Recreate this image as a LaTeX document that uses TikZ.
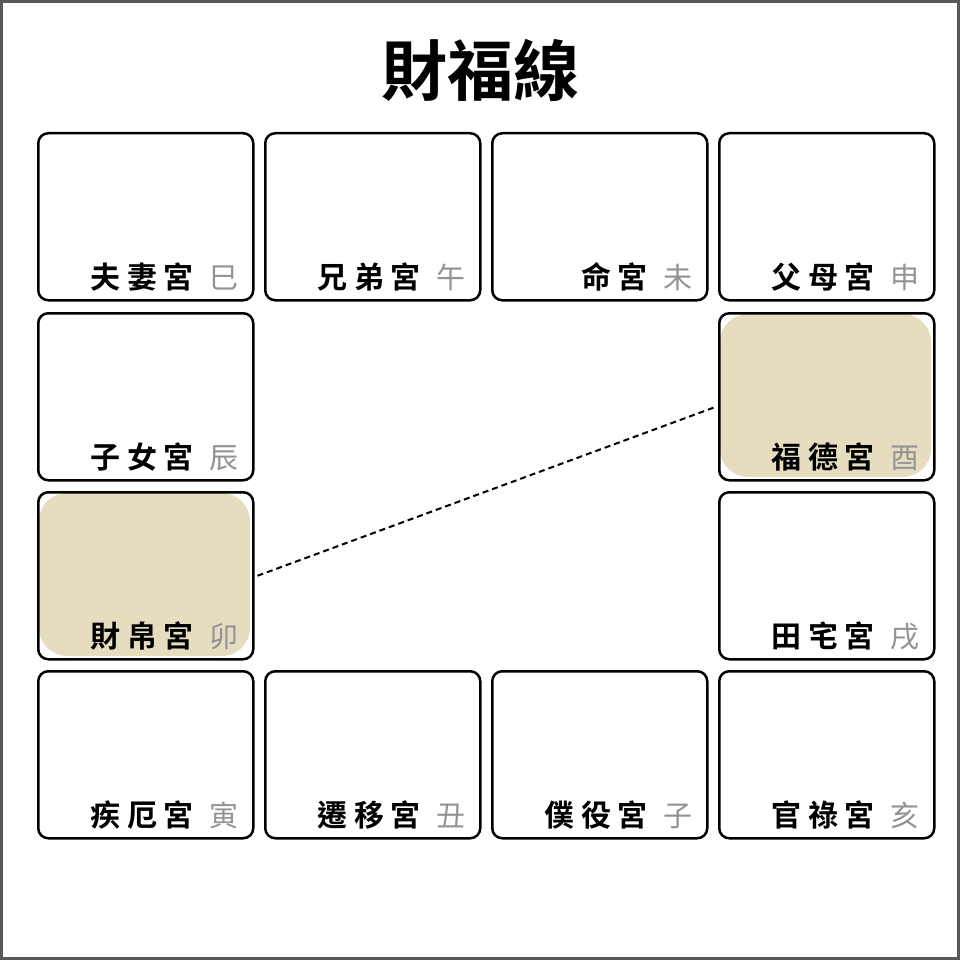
\documentclass[tikz,border=0pt]{standalone}
\usepackage{fontspec}
\newfontfamily\cjkb[LetterSpace=22]{Noto Sans CJK TC Bold}
\newfontfamily\cjkt{Noto Sans CJK TC Bold}
\newfontfamily\cjk{Noto Sans CJK TC}
\begin{document}
\begin{tikzpicture}[x=1pt,y=-1pt,
  cell/.style={draw=black,line width=2.5pt,rounded corners=10pt},
  hl/.style={fill=hlc,rounded corners=28pt},
  lab/.style={anchor=base east,inner sep=0pt,font=\cjkb\fontsize{30}{30}\selectfont},
  br/.style={anchor=base,inner sep=0pt,text=gray!85,font=\cjk\fontsize{29}{29}\selectfont}]
\definecolor{hlc}{HTML}{E6DDC0}
\fill[white] (0,0) rectangle (960,960);
\draw[gray!70!black,line width=3pt] (1.5,1.5) rectangle (958.5,958.5);
\node[inner sep=0pt,font=\cjkt\fontsize{66}{66}\selectfont] (title) at (480,70) {財福線};
\fill[hl] (720,314) rectangle (931,477);
\fill[hl] (39,493) rectangle (250,656);
\def\cols{{37,264,491,718}}
\def\rows{{132,312,491,670}}
\foreach \c/\r/\n/\b/\nm in {0/0/夫妻宮/巳/a,1/0/兄弟宮/午/b,2/0/命宮/未/c,3/0/父母宮/申/d,
  0/1/子女宮/辰/e,3/1/福德宮/酉/f,0/2/財帛宮/卯/g,3/2/田宅宮/戌/h,
  0/3/疾厄宮/寅/i,1/3/遷移宮/丑/j,2/3/僕役宮/子/k,3/3/官祿宮/亥/l}{
  \pgfmathsetmacro\x{\cols[\c]}
  \pgfmathsetmacro\y{\rows[\r]}
  \node[cell,minimum width=215pt,minimum height=167pt,anchor=north west,inner sep=0pt] (\nm) at (\x,\y) {};
  \node[lab] (\nm t) at (\x+157,\y+156) {\n};
  \node[br] (\nm b) at (\x+187,\y+156) {\b};
}
\path (g.east) ++(3,0) coordinate (p1) (f.west) ++(-2,10) coordinate (p2);
\draw[line width=2pt,dash pattern=on 6pt off 4pt] (p1) -- (p2);
\end{tikzpicture}
\end{document}
